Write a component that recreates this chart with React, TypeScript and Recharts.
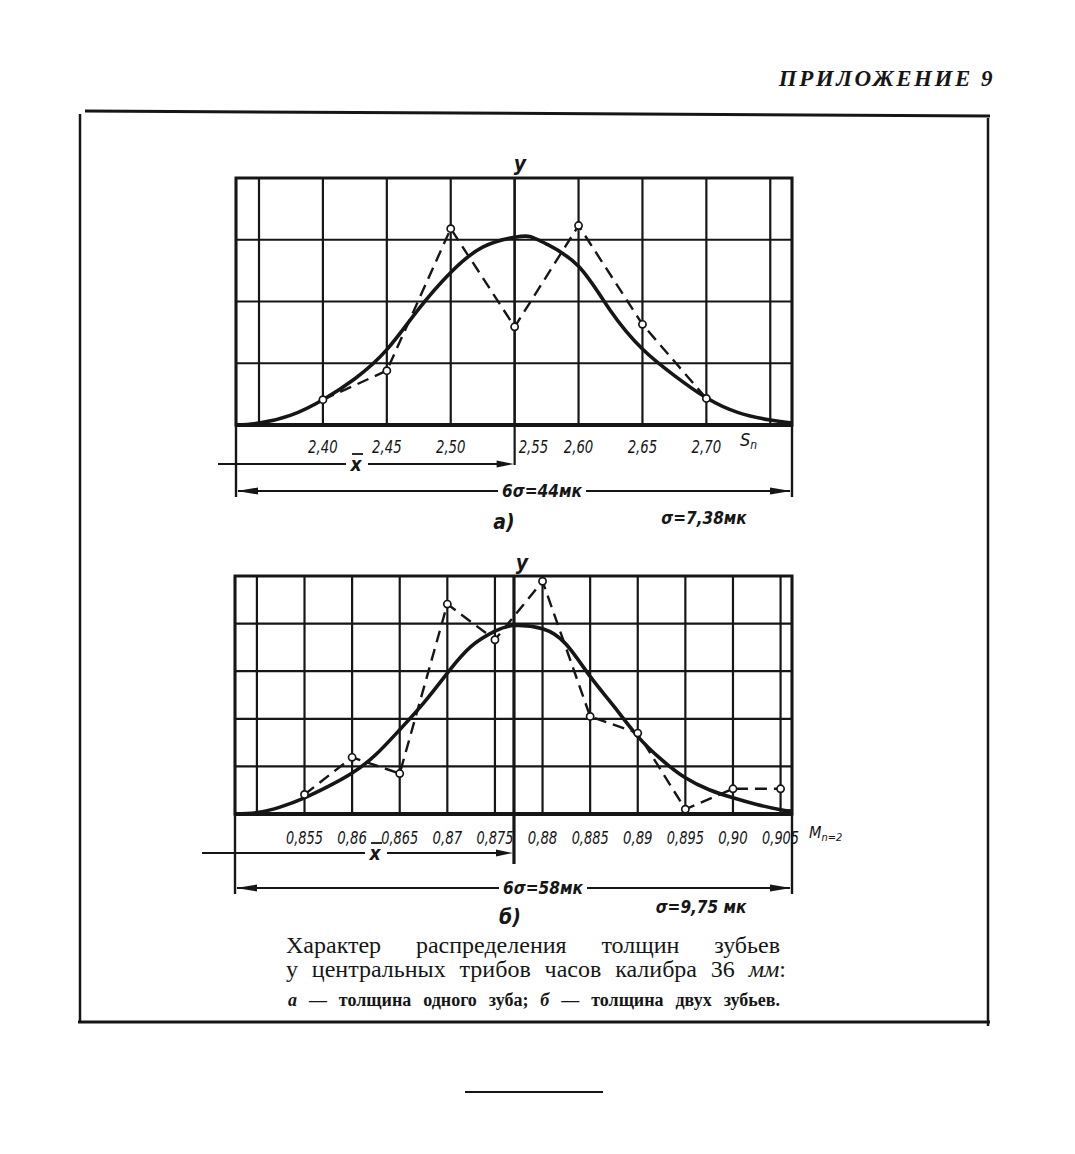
import {
  CartesianGrid,
  Line,
  LineChart,
  ReferenceArea,
  ReferenceLine,
  XAxis,
  YAxis,
} from "recharts";

// а) толщина одного зуба, S_n
const TOP_X = [2.4, 2.45, 2.5, 2.55, 2.6, 2.65, 2.7];
const TOP_FREQ = [0.41, 0.88, 3.18, 1.59, 3.23, 1.63, 0.43];
const TOP_CURVE_X = [
  2.332, 2.35, 2.375, 2.4, 2.425, 2.45, 2.475, 2.5, 2.525, 2.55, 2.5625, 2.575,
  2.6, 2.625, 2.65, 2.675, 2.7, 2.725, 2.75, 2.767,
];
const TOP_CURVE_Y = [
  0.0, 0.03, 0.16, 0.41, 0.75, 1.22, 1.88, 2.47, 2.88, 3.04, 3.05, 2.93, 2.57,
  1.85, 1.23, 0.8, 0.44, 0.2, 0.08, 0.03,
];
const TOP_TICKS = [2.35, 2.4, 2.45, 2.5, 2.55, 2.6, 2.65, 2.7, 2.75];
const TOP_LABELS = ["", "2,40", "2,45", "2,50", "2,55", "2,60", "2,65", "2,70", ""];
const TOP_DOMAIN = [2.332, 2.767];
const TOP_MEAN = 2.55;

// б) толщина двух зубьев, M_n=2
const BOT_X = [0.855, 0.86, 0.865, 0.87, 0.875, 0.88, 0.885, 0.89, 0.895, 0.9, 0.905];
const BOT_FREQ = [0.41, 1.19, 0.85, 4.41, 3.66, 4.89, 2.05, 1.7, 0.1, 0.53, 0.53];
const BOT_CURVE_X = [
  0.8477, 0.85, 0.8525, 0.855, 0.8575, 0.86, 0.8625, 0.865, 0.8675, 0.87, 0.8725,
  0.875, 0.877, 0.88, 0.8825, 0.885, 0.8875, 0.89, 0.8925, 0.895, 0.8975, 0.9,
  0.9025, 0.905, 0.9062,
];
const BOT_CURVE_Y = [
  0.0, 0.03, 0.15, 0.34, 0.58, 0.86, 1.25, 1.77, 2.33, 2.96, 3.52, 3.84, 3.96,
  3.89, 3.56, 2.89, 2.26, 1.63, 1.14, 0.76, 0.51, 0.34, 0.2, 0.09, 0.06,
];
const BOT_TICKS = [0.85, 0.855, 0.86, 0.865, 0.87, 0.875, 0.88, 0.885, 0.89, 0.895, 0.9, 0.905];
const BOT_LABELS = [
  "", "0,855", "0,86", "0,865", "0,87", "0,875", "0,88", "0,885", "0,89", "0,895", "0,90", "0,905",
];
const BOT_DOMAIN = [0.8477, 0.9062];
const BOT_MEAN = 0.877;

const INK = "#161616";
const DRAW_FONT = "'DejaVu Sans Condensed', 'DejaVu Sans', sans-serif";
const SERIF = "'Liberation Serif', 'DejaVu Serif', serif";

interface PanelProps {
  top: number;
  height: number;
  plotTop: number;
  plotBottom: number;
  plotLeft: number;
  plotRight: number;
  xs: number[];
  freq: number[];
  curveX: number[];
  curveY: number[];
  ticks: number[];
  labels: string[];
  domain: number[];
  yMax: number;
  mean: number;
  meanWidth: number;
  meanExt: number;
  arrowY: number;
  arrowFrom: number;
  barX: number;
  labelDy: number;
}

function Panel(p: PanelProps) {
  const points = p.xs.map((x, i) => ({ x, f: p.freq[i] }));
  const curve = p.curveX.map((x, i) => ({ x, c: p.curveY[i] }));
  const yTicks = Array.from({ length: p.yMax + 1 }, (_, i) => i);

  const renderTick = (props: any) => {
    const { x, y, payload } = props;
    const i = p.ticks.findIndex((t) => Math.abs(t - payload.value) < 1e-9);
    const label = i >= 0 ? p.labels[i] : "";
    if (!label) return <g />;
    const atMean = Math.abs(payload.value - p.mean) < 1e-9;
    return (
      <text
        x={atMean ? x + 4 : x}
        y={y + p.labelDy}
        textAnchor={atMean ? "start" : "middle"}
        fontFamily={DRAW_FONT}
        fontStyle="italic"
        fontSize={17}
        textLength={label.length * 7.4}
        lengthAdjust="spacingAndGlyphs"
        fill={INK}
      >
        {label}
      </text>
    );
  };

  const meanShape = (s: any) => {
    const x = s.x1;
    const yTop = Math.min(s.y1, s.y2);
    const yBot = Math.max(s.y1, s.y2);
    const ay = p.arrowY - p.top;
    const gapL = p.barX - p.arrowFrom - 10;
    return (
      <g>
        <line x1={x} x2={x} y1={yTop} y2={yBot + p.meanExt} stroke={INK} strokeWidth={p.meanWidth} />
        <line x1={p.arrowFrom} x2={p.arrowFrom + gapL} y1={ay} y2={ay} stroke={INK} strokeWidth={2} />
        <line x1={p.barX + 12} x2={x - 16} y1={ay} y2={ay} stroke={INK} strokeWidth={2} />
        <path d={`M${x - 1},${ay} L${x - 18},${ay - 3.5} L${x - 18},${ay + 3.5} Z`} fill={INK} />
        <text
          x={p.barX}
          y={ay + 7}
          textAnchor="middle"
          fontFamily={DRAW_FONT}
          fontStyle="italic"
          fontWeight={700}
          fontSize={19}
          fill={INK}
        >
          x
        </text>
        <line x1={p.barX - 4} x2={p.barX + 7} y1={ay - 10} y2={ay - 10} stroke={INK} strokeWidth={1.8} />
      </g>
    );
  };

  return (
    <div style={{ position: "absolute", left: 0, top: p.top, width: 1075, height: p.height }}>
      <LineChart
        width={1075}
        height={p.height}
        margin={{
          top: p.plotTop - p.top,
          left: p.plotLeft,
          right: 1075 - p.plotRight,
          bottom: p.top + p.height - p.plotBottom - 30,
        }}
      >
        <CartesianGrid stroke={INK} strokeWidth={2.2} strokeOpacity={1} />
        <XAxis
          type="number"
          dataKey="x"
          domain={p.domain}
          ticks={p.ticks}
          allowDataOverflow
          height={30}
          tickLine={false}
          axisLine={{ stroke: INK, strokeWidth: 4 }}
          tick={renderTick}
          interval={0}
        />
        <YAxis type="number" domain={[0, p.yMax]} ticks={yTicks} hide />
        <ReferenceArea
          x1={p.domain[0]}
          x2={p.domain[1]}
          y1={0}
          y2={p.yMax}
          fill="none"
          fillOpacity={0}
          stroke={INK}
          strokeWidth={3}
          strokeOpacity={1}
        />
        <ReferenceLine x={p.mean} shape={meanShape} />
        <Line
          data={curve}
          dataKey="c"
          type="natural"
          stroke={INK}
          strokeWidth={3.6}
          dot={false}
          isAnimationActive={false}
        />
        <Line
          data={points}
          dataKey="f"
          type="linear"
          stroke={INK}
          strokeWidth={2.4}
          strokeDasharray="12 7"
          dot={{ r: 3.6, fill: "#fff", stroke: INK, strokeWidth: 1.7, strokeDasharray: "0" }}
          isAnimationActive={false}
        />
      </LineChart>
    </div>
  );
}

function Dimension({ y, x1, x2, label, cx, gap, yFrom }: any) {
  return (
    <g stroke={INK} fill={INK}>
      <line x1={x1} x2={x1} y1={yFrom} y2={y + 6} strokeWidth={2.4} />
      <line x1={x2} x2={x2} y1={yFrom} y2={y + 6} strokeWidth={2.4} />
      <line x1={x1 + 2} x2={cx - gap} y1={y} y2={y} strokeWidth={2} />
      <line x1={cx + gap} x2={x2 - 2} y1={y} y2={y} strokeWidth={2} />
      <path d={`M${x1 + 1},${y} L${x1 + 22},${y - 3.5} L${x1 + 22},${y + 3.5} Z`} stroke="none" />
      <path d={`M${x2 - 1},${y} L${x2 - 22},${y - 3.5} L${x2 - 22},${y + 3.5} Z`} stroke="none" />
      <text
        x={cx}
        y={y + 6}
        textAnchor="middle"
        stroke="none"
        fontFamily={DRAW_FONT}
        fontStyle="italic"
        fontWeight={700}
        fontSize={18}
        textLength={gap * 2 - 8}
        lengthAdjust="spacingAndGlyphs"
      >
        {label}
      </text>
    </g>
  );
}

const drawText = {
  fontFamily: DRAW_FONT,
  fontStyle: "italic",
  fontWeight: 700,
  fill: INK,
} as const;

const captionLine = {
  position: "absolute",
  fontFamily: SERIF,
  color: INK,
  textAlign: "justify",
  textAlignLast: "justify",
  whiteSpace: "nowrap",
} as const;

export default function App() {
  return (
    <div style={{ position: "absolute", left: 0, top: 0, width: 1075, height: 1154, background: "#fff" }}>
      <Panel
        top={130}
        height={405}
        plotTop={178}
        plotBottom={425}
        plotLeft={236}
        plotRight={792}
        xs={TOP_X}
        freq={TOP_FREQ}
        curveX={TOP_CURVE_X}
        curveY={TOP_CURVE_Y}
        ticks={TOP_TICKS}
        labels={TOP_LABELS}
        domain={TOP_DOMAIN}
        yMax={4}
        mean={TOP_MEAN}
        meanWidth={2.2}
        meanExt={40}
        arrowY={464}
        arrowFrom={218}
        barX={356}
        labelDy={20}
      />
      <Panel
        top={545}
        height={395}
        plotTop={576}
        plotBottom={814}
        plotLeft={235}
        plotRight={792}
        xs={BOT_X}
        freq={BOT_FREQ}
        curveX={BOT_CURVE_X}
        curveY={BOT_CURVE_Y}
        ticks={BOT_TICKS}
        labels={BOT_LABELS}
        domain={BOT_DOMAIN}
        yMax={5}
        mean={BOT_MEAN}
        meanWidth={3.2}
        meanExt={50}
        arrowY={853}
        arrowFrom={202}
        barX={375}
        labelDy={22}
      />

      <svg
        width={1075}
        height={1154}
        style={{ position: "absolute", left: 0, top: 0, pointerEvents: "none" }}
      >
        <text
          x={995}
          y={86}
          textAnchor="end"
          fontFamily={SERIF}
          fontStyle="italic"
          fontWeight={700}
          fontSize={23}
          letterSpacing={2.5}
          fill={INK}
        >
          ПРИЛОЖЕНИЕ 9
        </text>

        {/* рамка */}
        <line x1={85} y1={111} x2={990} y2={116} stroke={INK} strokeWidth={3} />
        <line x1={80} y1={114} x2={80} y2={1023} stroke={INK} strokeWidth={2.5} />
        <line x1={988} y1={118} x2={988} y2={1026} stroke={INK} strokeWidth={2.5} />
        <line x1={78} y1={1022} x2={990} y2={1022} stroke={INK} strokeWidth={3} />
        <line x1={465} y1={1092} x2={603} y2={1092} stroke={INK} strokeWidth={2} />

        {/* а) */}
        <text x={520} y={171} textAnchor="middle" fontSize={21} {...drawText}>
          y
        </text>
        <text x={740} y={446} fontSize={18} {...drawText} fontWeight={400}>
          S<tspan fontSize={12} dy={3}>n</tspan>
        </text>
        <Dimension y={491} x1={236} x2={792} yFrom={425} cx={542} gap={44} label="6σ=44мк" />
        <text x={504} y={529} textAnchor="middle" fontSize={21} {...drawText}>
          а)
        </text>
        <text x={704} y={524} textAnchor="middle" fontSize={17} {...drawText}>
          σ=7,38мк
        </text>

        {/* б) */}
        <text x={522} y={570} textAnchor="middle" fontSize={21} {...drawText}>
          y
        </text>
        <text x={809} y={838} fontSize={16} {...drawText} fontWeight={400}>
          M<tspan fontSize={11} dy={3}>n=2</tspan>
        </text>
        <Dimension y={888} x1={235} x2={792} yFrom={814} cx={543} gap={44} label="6σ=58мк" />
        <text x={510} y={924} textAnchor="middle" fontSize={21} {...drawText}>
          б)
        </text>
        <text x={701} y={913} textAnchor="middle" fontSize={17} {...drawText}>
          σ=9,75 мк
        </text>
      </svg>

      <div style={{ ...captionLine, left: 286, top: 932, width: 494, fontSize: 24, lineHeight: "26px" }}>
        Характер распределения толщин зубьев
      </div>
      <div style={{ ...captionLine, left: 286, top: 956, width: 500, fontSize: 24, lineHeight: "26px" }}>
        у центральных трибов часов калибра 36 <i>мм</i>:
      </div>
      <div
        style={{
          ...captionLine,
          left: 288,
          top: 989,
          width: 492,
          fontSize: 18,
          fontWeight: 700,
          lineHeight: "22px",
        }}
      >
        <i>а</i> — толщина одного зуба; <i>б</i> — толщина двух зубьев.
      </div>
    </div>
  );
}
